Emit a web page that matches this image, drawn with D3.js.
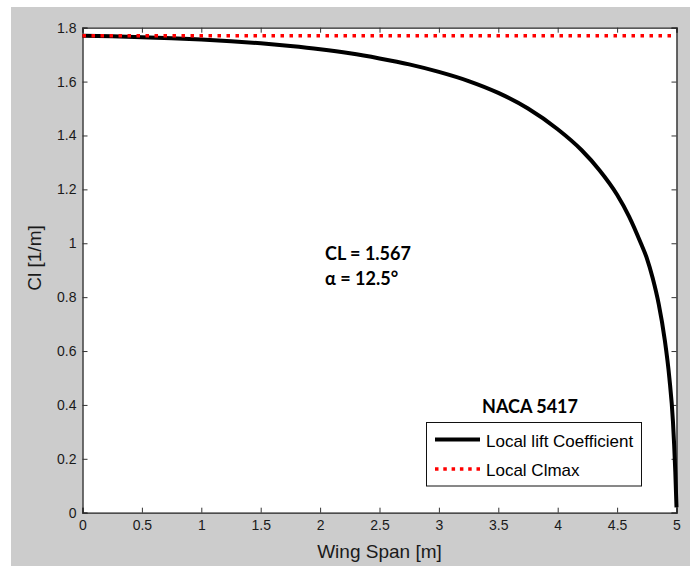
<!DOCTYPE html>
<html>
<head>
<meta charset="utf-8">
<script src="https://cdn.jsdelivr.net/npm/d3@7"></script>
<style>
  body { margin: 0; background: #fff; }
  svg text { font-family: "Liberation Sans", Arial, sans-serif; }
</style>
</head>
<body>
<div id="viz"></div>
<script>
// values
const span = [0, 0.25, 0.5, 0.75, 1, 1.25, 1.5, 1.75, 2, 2.25, 2.5, 2.75, 3, 3.25, 3.5, 3.75,
  4, 4.2, 4.35, 4.5, 4.6, 4.7, 4.75, 4.8, 4.85, 4.9, 4.94, 4.97, 4.99, 5.0];
const localCl = [1.770, 1.768, 1.765, 1.761, 1.756, 1.750, 1.742, 1.732, 1.720, 1.705, 1.686, 1.664,
  1.636, 1.602, 1.558, 1.500, 1.423, 1.346, 1.272, 1.180, 1.100, 1.000, 0.945, 0.870, 0.775,
  0.645, 0.500, 0.340, 0.150, 0.02];
const clMax = 1.77;
const xTicks = [0, 0.5, 1, 1.5, 2, 2.5, 3, 3.5, 4, 4.5, 5];
const yTicks = [0, 0.2, 0.4, 0.6, 0.8, 1, 1.2, 1.4, 1.6, 1.8];
const seriesNames = ['Local lift Coefficient', 'Local Clmax'];
const notes = ['CL = 1.567', '\u03b1 = 12.5\u00b0'];
const legendTitle = 'NACA 5417';

const width = 690, height = 566;
const pLeft = 82.5, pRight = 676.5, pTop = 27.7, pBottom = 512.7;

const svg = d3.select('#viz').append('svg')
  .attr('width', width)
  .attr('height', height);

// gray figure background
svg.append('rect')
  .attr('x', 11).attr('y', 7)
  .attr('width', width - 11).attr('height', height - 7)
  .attr('fill', '#cccccc');

const x = d3.scaleLinear().domain([0, 5]).range([pLeft, pRight]);
const y = d3.scaleLinear().domain([0, 1.8]).range([pBottom, pTop]);

svg.append('rect')
  .attr('x', pLeft).attr('y', pTop)
  .attr('width', pRight - pLeft).attr('height', pBottom - pTop)
  .attr('fill', '#fff');

const fmt = d => String(+d.toFixed(1));

svg.append('g')
  .attr('transform', `translate(0,${pBottom})`)
  .call(d3.axisBottom(x).tickValues(xTicks).tickSize(-5).tickPadding(7).tickFormat(fmt));
svg.append('g')
  .attr('transform', `translate(0,${pTop})`)
  .call(d3.axisTop(x).tickValues(xTicks).tickSize(-5).tickFormat(''));
svg.append('g')
  .attr('transform', `translate(${pLeft},0)`)
  .call(d3.axisLeft(y).tickValues(yTicks).tickSize(-5).tickPadding(6).tickFormat(fmt));
svg.append('g')
  .attr('transform', `translate(${pRight},0)`)
  .call(d3.axisRight(y).tickValues(yTicks).tickSize(-5).tickFormat(''));

svg.selectAll('.domain').attr('stroke', '#222').attr('stroke-width', 1.3);
svg.selectAll('.tick line').attr('stroke', '#333');
svg.selectAll('.tick text')
  .attr('fill', '#1a1a1a')
  .style('font-size', '14px');

// axis labels
svg.append('text')
  .attr('x', (pLeft + pRight) / 2)
  .attr('y', 558)
  .attr('text-anchor', 'middle')
  .style('font-size', '19px')
  .attr('fill', '#1a1a1a')
  .text('Wing Span [m]');
svg.append('text')
  .attr('transform', 'translate(41,258) rotate(-90)')
  .attr('text-anchor', 'middle')
  .style('font-size', '19px')
  .attr('fill', '#1a1a1a')
  .text('Cl [1/m]');

const plot = svg.append('g');

const pts = span.map((s, i) => [s, localCl[i]]);
plot.append('path')
  .datum(pts)
  .attr('fill', 'none')
  .attr('stroke', '#000')
  .attr('stroke-width', 4)
  .attr('d', d3.line().x(d => x(d[0])).y(d => y(d[1])).curve(d3.curveMonotoneX));

plot.append('line')
  .attr('x1', x(0)).attr('x2', x(5))
  .attr('y1', y(clMax)).attr('y2', y(clMax))
  .attr('stroke', '#ff0000')
  .attr('stroke-width', 3.5)
  .attr('stroke-dasharray', '3.5 5.5');

// annotations
svg.selectAll('.note')
  .data(notes)
  .enter()
  .append('text')
  .attr('class', 'note')
  .attr('x', 325)
  .attr('y', (d, i) => 260 + i * 25)
  .style('font-family', 'Lato, "Open Sans", sans-serif')
  .style('font-weight', 'bold')
  .style('font-size', '18px')
  .attr('fill', '#000')
  .text(d => d);

svg.append('text')
  .attr('x', 530)
  .attr('y', 413)
  .attr('text-anchor', 'middle')
  .style('font-family', 'Lato, "Open Sans", sans-serif')
  .style('font-weight', 'bold')
  .style('font-size', '18px')
  .text(legendTitle);

// legend
const lg = svg.append('g');
lg.append('rect')
  .attr('x', 426.5).attr('y', 422.5)
  .attr('width', 215).attr('height', 63.5)
  .attr('fill', '#fff')
  .attr('stroke', '#111')
  .attr('stroke-width', 1);

const rows = lg.selectAll('g.row')
  .data(seriesNames)
  .enter()
  .append('g')
  .attr('class', 'row')
  .attr('transform', (d, i) => `translate(0,${439.5 + i * 29.5})`);

rows.append('line')
  .attr('x1', 435).attr('x2', 480)
  .attr('stroke', (d, i) => i === 0 ? '#000' : '#ff0000')
  .attr('stroke-width', (d, i) => i === 0 ? 4 : 3.5)
  .attr('stroke-dasharray', (d, i) => i === 0 ? null : '3.5 4.8');

rows.append('text')
  .attr('x', 486)
  .attr('y', 7)
  .style('font-size', '17px')
  .attr('fill', '#000')
  .text(d => d);
</script>
</body>
</html>
